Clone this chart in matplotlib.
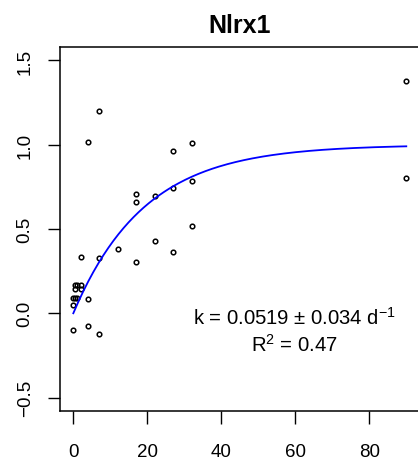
import numpy as np
import matplotlib
matplotlib.use('Agg')
import matplotlib.pyplot as plt

plt.rcParams['font.family'] = ['Liberation Sans', 'DejaVu Sans']
plt.rcParams['mathtext.fontset'] = 'custom'
plt.rcParams['mathtext.rm'] = 'Liberation Sans'
plt.rcParams['mathtext.it'] = 'Liberation Sans'

days = [0.5, 1, 2, 0.5, 2, 0, 0.5, 1, 0, 4, 0, 4, 7, 2,
        4, 7, 7, 12, 17, 17, 17, 22, 22, 27, 27, 27, 32, 32, 32, 90, 90]
vals = [0.165, 0.168, 0.17, 0.142, 0.146, 0.093, 0.093, 0.09, 0.05, 0.086, -0.099, -0.077, -0.124, 0.335,
        1.016, 1.20, 0.329, 0.383, 0.706, 0.661, 0.306, 0.694, 0.426, 0.960, 0.746, 0.363, 1.010, 0.787, 0.519,
        1.377, 0.803]

k = 0.0519
k_se = 0.034
plateau = 1.0
r2 = 0.47

fig = plt.figure(figsize=(4.18, 4.64), dpi=100)
ax = fig.add_axes([60/418, 1-412/464, (419.6-60)/418, (412-48)/464])

ax.plot(days, vals, 'o', mfc='none', mec='black', ms=3.3, mew=1.1)
t = np.linspace(0, 90, 200)
ax.plot(t, plateau*(1-np.exp(-k*t)), color='#0000ff', lw=1.3)

ax.set_xlim(-3.6, 93.6)
ax.set_ylim(-0.58, 1.58)
ax.set_xticks([0, 20, 40, 60, 80])
ax.set_yticks([-0.5, 0.0, 0.5, 1.0, 1.5])
ax.set_yticklabels(['\u22120.5', '0.0', '0.5', '1.0', '1.5'], rotation=90, va='center')
ax.tick_params(length=9, width=1, labelsize=13.5)
ax.tick_params(axis='x', pad=14)
ax.tick_params(axis='y', pad=10)
for s in ax.spines.values():
    s.set_linewidth(1.1)

ax.set_title('Nlrx1', fontsize=18, fontweight='bold', pad=11)

ax.text(59.8, -0.065, f'k = {k:.4f} $\\pm$ {k_se:.3f} d$^{{-1}}$',
        ha='center', va='baseline', fontsize=14.6)
ax.text(59.8, -0.225, r'R$^{2}$ = ' + f'{r2:.2f}', ha='center', va='baseline', fontsize=14.6)

fig.savefig('out.png', dpi=100)
